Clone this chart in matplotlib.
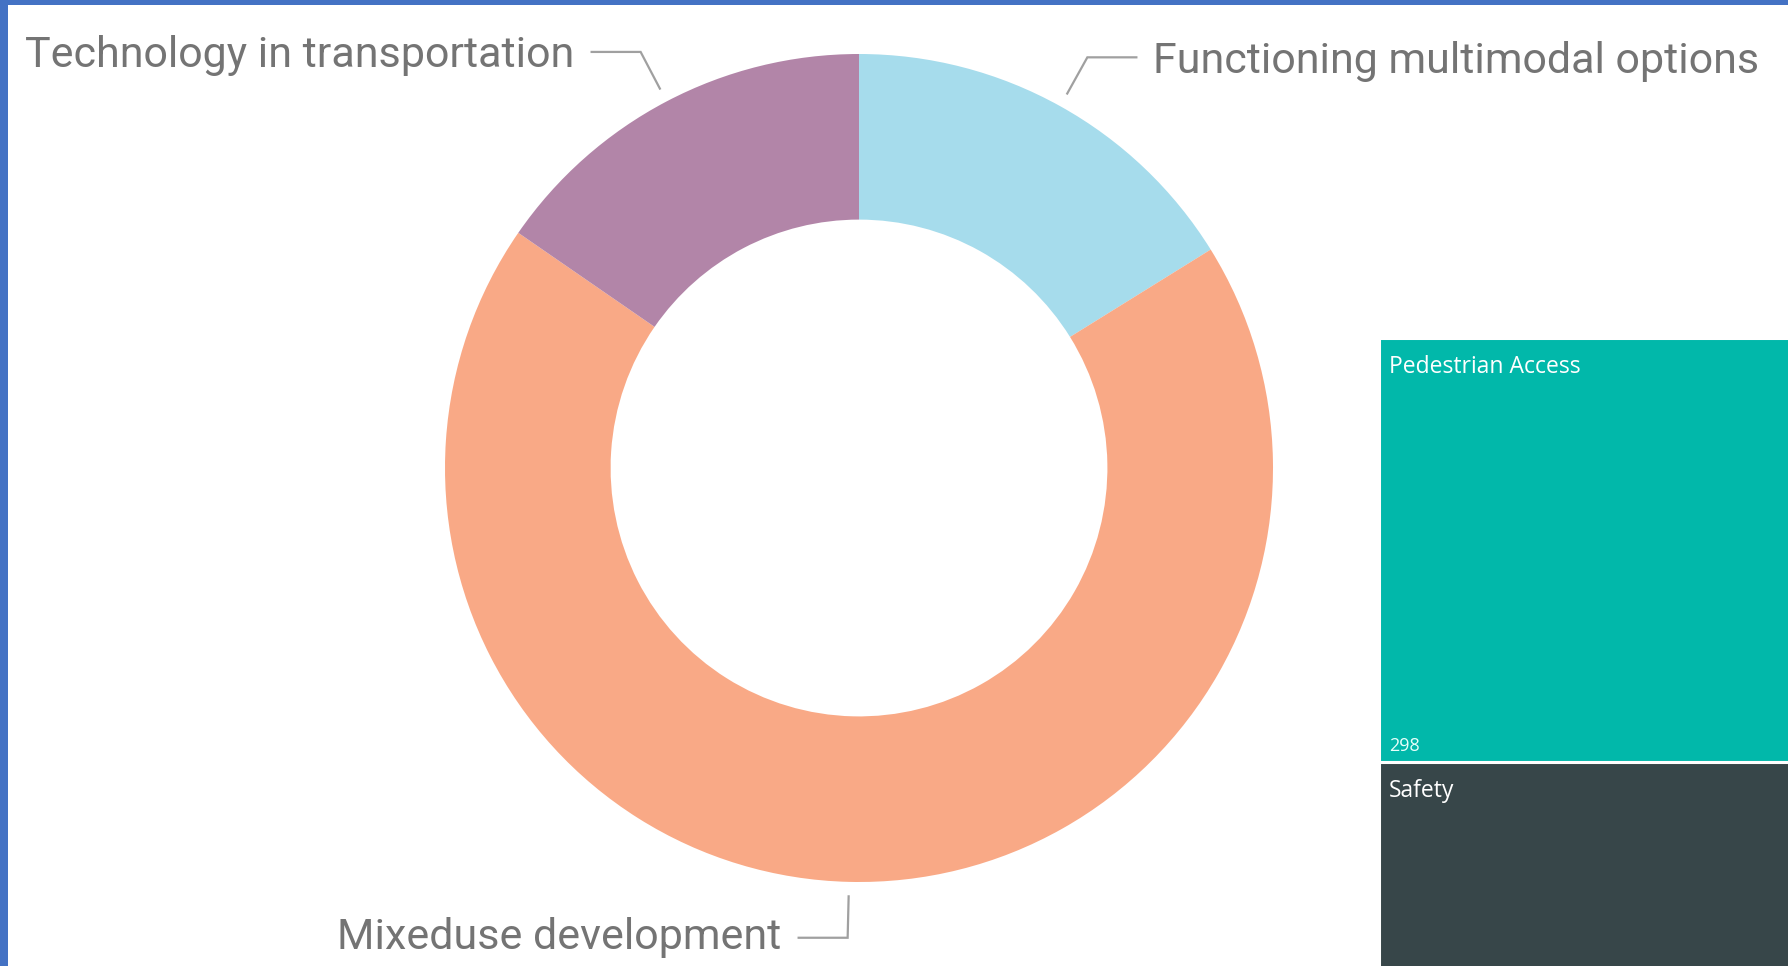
import matplotlib
matplotlib.use('Agg')
import matplotlib.pyplot as plt
import numpy as np

# donut (clockwise from 12 o'clock)
donut_labels = ['Functioning multimodal options', 'Mixeduse development', 'Technology in transportation']
donut_values = [21, 89, 20]
donut_colors = ['#A6DCEC', '#F9A986', '#B285A8']

# treemap (only the left column is visible, the rest is cut off)
tree_labels = ['Pedestrian Access', 'Safety']
tree_values = [298, 210]
tree_colors = ['#01B8AA', '#374649']

W, H = 1788, 966
fig = plt.figure(figsize=(W / 100, H / 100), dpi=100)
fig.patch.set_facecolor('white')

# main axes in pixel units, y going up
ax = fig.add_axes([0, 0, 1, 1])
cx, cy, R = 859, H - 468, 414
wedges, _ = ax.pie(donut_values, colors=donut_colors, startangle=90, counterclock=False,
                   center=(cx, cy), radius=R,
                   wedgeprops=dict(width=R * 0.4, linewidth=0))
ax.set_xlim(0, W)
ax.set_ylim(0, H)
ax.set_aspect('auto')
ax.axis('off')

# leader lines + labels
label_font = ['Liberation Sans Narrow', 'Roboto', 'DejaVu Sans']
for w, lab in zip(wedges, donut_labels):
    ang = np.deg2rad((w.theta1 + w.theta2) / 2)
    dx, dy = np.cos(ang), np.sin(ang)
    p1 = (cx + 1.035 * R * dx, cy + 1.035 * R * dy)
    p2 = (cx + 1.135 * R * dx, cy + 1.135 * R * dy)
    side = 1 if dx > 0 else -1
    p3 = (p2[0] + side * 49, p2[1])
    ax.plot([p1[0], p2[0], p3[0]], [p1[1], p2[1], p3[1]], color='#a0a0a0', lw=1.6,
            solid_joinstyle='miter')
    ax.text(p3[0] + side * 17, p3[1] - (4 if dy > 0 else 0), lab,
            ha='left' if side > 0 else 'right',
            va='center', fontsize=31, color='#747474', family=label_font)

# blue frame at left / top
ax.add_patch(plt.Rectangle((0, 0), 8, H, color='#4472C4', lw=0, clip_on=False))
ax.add_patch(plt.Rectangle((0, H - 5), W, 5, color='#4472C4', lw=0, clip_on=False))

# treemap, stacked in one column
px_per_unit = 424 / tree_values[0]
tot_px = sum(tree_values) * px_per_unit
left, top, wid = 1379, 338, 420
ax2 = fig.add_axes([left / W, (H - top - tot_px) / H, wid / W, tot_px / H])
bottoms = np.concatenate([[0], np.cumsum(tree_values)[:-1]])
ax2.bar([0] * len(tree_values), tree_values, bottom=bottoms, width=1, align='edge',
        color=tree_colors, edgecolor='white', linewidth=2.2)
ax2.set_xlim(0, 1)
ax2.set_ylim(sum(tree_values), 0)
ax2.axis('off')
tfont = ['Open Sans', 'Noto Sans', 'DejaVu Sans']
for b, v, lab in zip(bottoms, tree_values, tree_labels):
    ax2.annotate(lab, (0, b), xytext=(7, -12.5), textcoords='offset points',
                 ha='left', va='top', color='white', fontsize=16.5, family=tfont)
ax2.annotate(str(tree_values[0]), (0, tree_values[0]), xytext=(7, 5),
             textcoords='offset points', ha='left', va='bottom', color='#e8fffb',
             fontsize=13, family=tfont)

fig.savefig('out.png', dpi=100, facecolor='white')
